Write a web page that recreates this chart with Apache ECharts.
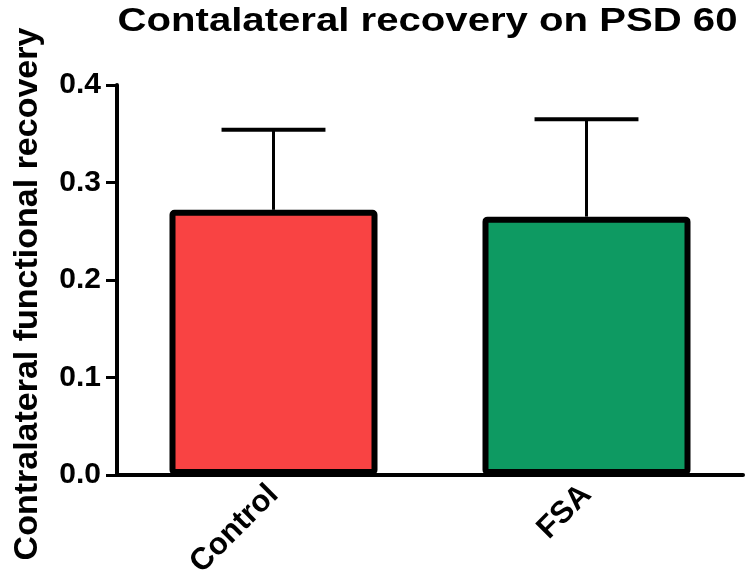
<!DOCTYPE html>
<html>
<head>
<meta charset="utf-8">
<script src="https://cdn.jsdelivr.net/npm/echarts@6/dist/echarts.min.js"></script>
<style>
  html, body { margin: 0; padding: 0; background: #fff; }
  #chart { width: 747px; height: 588px; }
</style>
</head>
<body>
<div id="chart"></div>
<script>
// Group means and upper SEM bounds for contralateral functional recovery
const categories = ['Control', 'FSA'];
const means = [0.272, 0.265];
const upperErrors = [0.354, 0.365];
const barColors = ['#F94343', '#0E9A62'];
const yTicks = [0, 0.1, 0.2, 0.3, 0.4];

const chartTitle = 'Contalateral recovery on PSD 60';
const yTitle = 'Contralateral functional recovery';

const FONT = '"Liberation Sans", Arial, sans-serif';

const chart = echarts.init(document.getElementById('chart'), null, { renderer: 'canvas' });

const option = {
  backgroundColor: '#ffffff',
  animation: false,
  graphic: [
    {
      // chart title, slightly widened
      type: 'text',
      x: 427.5,
      y: 22,
      scaleX: 1.18,
      style: {
        text: chartTitle,
        font: 'bold 34px ' + FONT,
        fill: '#000',
        align: 'center',
        verticalAlign: 'middle'
      }
    },
    {
      // vertical axis title
      type: 'text',
      x: 28,
      y: 294,
      rotation: Math.PI / 2,
      style: {
        text: yTitle,
        font: 'bold 34px ' + FONT,
        fill: '#000',
        align: 'center',
        verticalAlign: 'middle'
      }
    }
  ],
  grid: { left: 117, right: 4, top: 85, bottom: 113, containLabel: false },
  xAxis: {
    type: 'category',
    data: categories,
    boundaryGap: true,
    axisLine: { lineStyle: { color: '#000', width: 4 } },
    axisTick: { alignWithLabel: true, length: 10, lineStyle: { color: '#000', width: 3 } },
    axisLabel: {
      rotate: 45, margin: 15, color: '#000',
      fontFamily: FONT, fontWeight: 'bold', fontSize: 31
    }
  },
  yAxis: {
    type: 'value',
    min: yTicks[0],
    max: yTicks[yTicks.length - 1],
    interval: 0.1,
    axisLine: { show: true, lineStyle: { color: '#000', width: 4 } },
    axisTick: { show: true, length: 11, lineStyle: { color: '#000', width: 3 } },
    splitLine: { show: false },
    axisLabel: {
      margin: 16, color: '#000',
      fontFamily: FONT, fontWeight: 'bold', fontSize: 30,
      formatter: v => v.toFixed(1)
    }
  },
  series: [
    {
      // upper error whiskers with caps
      type: 'custom',
      z: 1,
      data: categories.map((c, i) => [i, means[i], upperErrors[i]]),
      renderItem: (params, api) => {
        const base = api.coord([api.value(0), api.value(1)]);
        const top = api.coord([api.value(0), api.value(2)]);
        const capHalf = api.size([1, 0])[0] * 0.166;
        return {
          type: 'group',
          children: [
            { type: 'line', shape: { x1: base[0], y1: base[1], x2: top[0], y2: top[1] }, style: { stroke: '#000', lineWidth: 3 } },
            { type: 'line', shape: { x1: top[0] - capHalf, y1: top[1], x2: top[0] + capHalf, y2: top[1] }, style: { stroke: '#000', lineWidth: 4 } }
          ]
        };
      }
    },
    {
      type: 'bar',
      z: 2,
      barWidth: 208,
      data: means.map((v, i) => ({
        value: v,
        itemStyle: { color: barColors[i], borderColor: '#000', borderWidth: 6, borderRadius: 2 }
      }))
    }
  ]
};

chart.setOption(option);
</script>
</body>
</html>
